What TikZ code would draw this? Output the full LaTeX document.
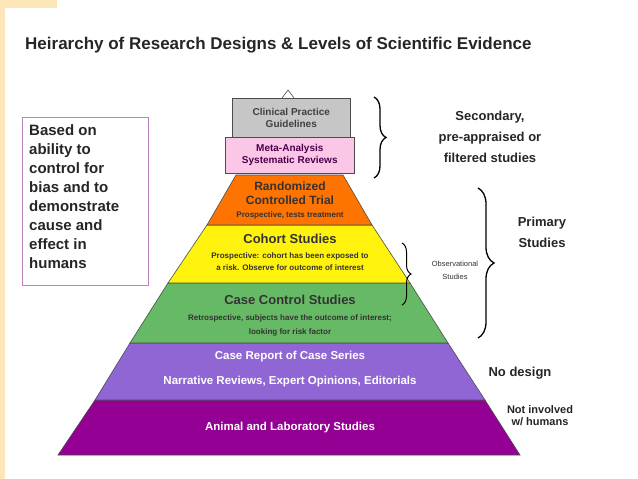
\documentclass[tikz,border=0pt]{standalone}
\usepackage{fontspec}
\setmainfont{Liberation Sans}
\usetikzlibrary{decorations.pathreplacing}
\begin{document}
\begin{tikzpicture}[x=1pt,y=-1pt,
  band/.style={draw=black!70,line width=0.6pt},
  lbl/.style={font=\bfseries,align=center,inner sep=0pt},
  br/.style={decorate,decoration={brace,amplitude=12pt},line width=1.3pt}]
\useasboundingbox (0,0) rectangle (638,479);
\fill[white] (0,0) rectangle (638,479);
\fill[yellow!30!orange!25] (0,0) rectangle (57,8);
\fill[yellow!30!orange!25] (0,0) rectangle (5,479);
\node[lbl,anchor=west,font=\bfseries\fontsize{17}{19}\selectfont,text=black!85] (title) at (25,45) {Heirarchy of Research Designs \& Levels of Scientific Evidence};
% left box
\node[draw=violet!50,line width=0.6pt,minimum width=126pt,minimum height=168pt,anchor=north west] (box) at (22,117) {};
\node[lbl,anchor=north west,align=left,font=\bfseries\fontsize{15}{19}\selectfont,text=black!85] (boxt) at (29,124) {Based on\\ability to\\control for\\bias and to\\demonstrate\\cause and\\effect in\\humans};
% pyramid bands
\draw[band,fill=violet!85!magenta] (95,400) -- (485,400) -- (520,455) -- (58,455) -- cycle;
\draw[band,fill=blue!45!violet!60] (130,343) -- (448,343) -- (485,400) -- (95,400) -- cycle;
\draw[band,fill=green!55!black!60!white] (168,283) -- (410,283) -- (448,343) -- (130,343) -- cycle;
\draw[band,fill=yellow!95!white] (207,225) -- (372,225) -- (410,283) -- (168,283) -- cycle;
\draw[band,fill=orange!90!red] (236,175) -- (343,175) -- (372,225) -- (207,225) -- cycle;
\draw[band,fill=white] (282,98) -- (288,90) -- (294,98);
\node[band,fill=gray!45,minimum width=118pt,minimum height=39pt,anchor=north west] (cpg) at (232,98) {};
\node[band,fill=magenta!22,minimum width=129pt,minimum height=36pt,anchor=north west] (ma) at (225,137) {};
% texts
\node[lbl,font=\bfseries\fontsize{10}{12}\selectfont,text=black!75] at (cpg) {Clinical Practice\\Guidelines};
\node[lbl,font=\bfseries\fontsize{10}{12}\selectfont,text=violet!60!black] at (ma) {Meta-Analysis\\Systematic Reviews};
\node[lbl,font=\bfseries\fontsize{12}{14}\selectfont,text=black!80] (rct) at (290,193) {Randomized\\Controlled Trial};
\node[lbl,font=\bfseries\fontsize{8}{9}\selectfont,text=black!80] at (290,215) {Prospective, tests treatment};
\node[lbl,font=\bfseries\fontsize{13}{15}\selectfont,text=black!80] at (290,239) {Cohort Studies};
\node[lbl,font=\bfseries\fontsize{8}{12}\selectfont,text=black!80] at (290,262) {Prospective: cohort has been exposed to\\a risk. Observe for outcome of interest};
\node[lbl,font=\bfseries\fontsize{13}{15}\selectfont,text=black!80] at (290,300) {Case Control Studies};
\node[lbl,font=\bfseries\fontsize{8}{14}\selectfont,text=black!80] at (290,325) {Retrospective, subjects have the outcome of interest;\\looking for risk factor};
\node[lbl,font=\bfseries\fontsize{11.5}{13}\selectfont,text=white] at (290,357) {Case Report of Case Series};
\node[lbl,font=\bfseries\fontsize{11.5}{13}\selectfont,text=white] at (290,382) {Narrative Reviews, Expert Opinions, Editorials};
\node[lbl,font=\bfseries\fontsize{11.5}{13}\selectfont,text=white] at (290,428) {Animal and Laboratory Studies};
% braces
\coordinate (s1) at (374,97); \coordinate (s2) at (374,178);
\draw[br] (s1) -- (s2);
\node[lbl,font=\bfseries\fontsize{13}{21}\selectfont,text=black!85] at (490,137) {Secondary,\\pre-appraised or\\filtered studies};
\coordinate (p1) at (478,188); \coordinate (p2) at (478,338);
\draw[br,decoration={amplitude=16pt}] (p1) -- (p2);
\node[lbl,font=\bfseries\fontsize{13}{21}\selectfont,text=black!85] at (542,232) {Primary\\Studies};
\coordinate (o1) at (402,243); \coordinate (o2) at (402,305);
\draw[br,line width=1pt,decoration={amplitude=9pt}] (o1) -- (o2);
\node[lbl,font=\fontsize{7.5}{13}\selectfont,text=black!80] at (455,270) {Observational\\Studies};
\node[lbl,font=\bfseries\fontsize{13}{15}\selectfont,text=black!85] at (520,373) {No design};
\node[lbl,font=\bfseries\fontsize{11}{12}\selectfont,text=black!85] at (540,416) {Not involved\\w/ humans};
\end{tikzpicture}
\end{document}
